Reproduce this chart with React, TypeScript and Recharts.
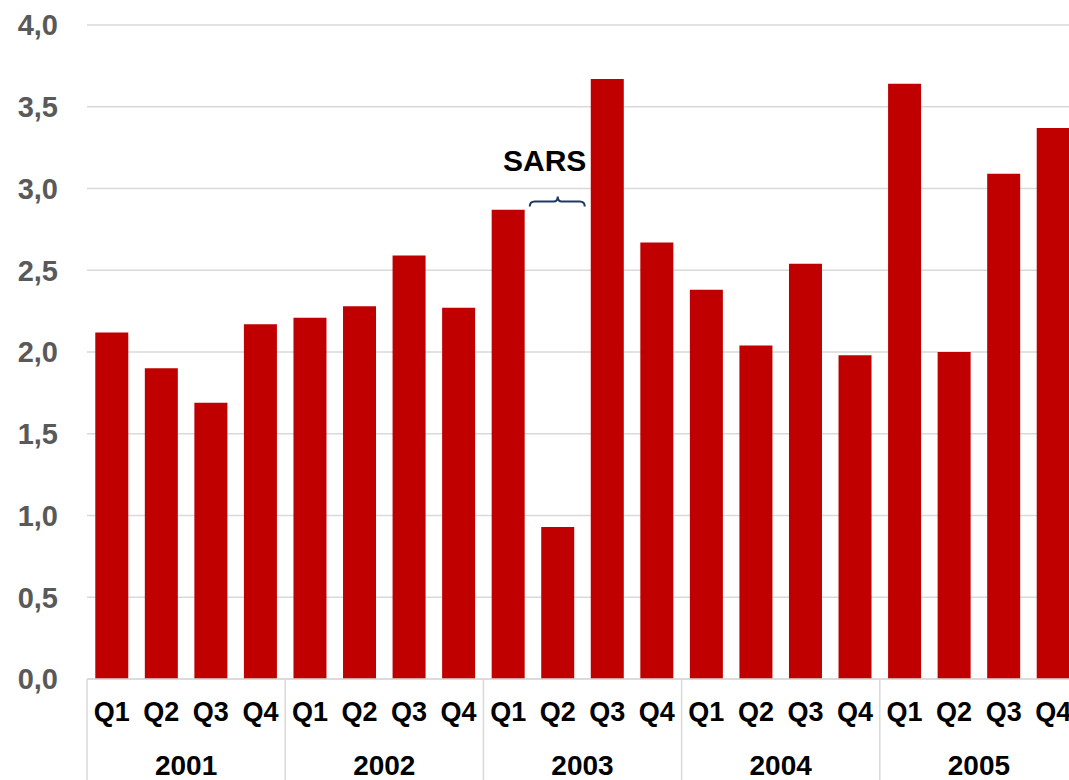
import React from 'react';
import { BarChart, Bar, XAxis, YAxis, CartesianGrid, ReferenceDot } from 'recharts';

// Quarterly values 2001-2005
const YEARS = ['2001', '2002', '2003', '2004', '2005'];
const QUARTERS = ['Q1', 'Q2', 'Q3', 'Q4'];
const VALUES = [
  2.12, 1.90, 1.69, 2.17,
  2.21, 2.28, 2.59, 2.27,
  2.87, 0.93, 3.67, 2.67,
  2.38, 2.04, 2.54, 1.98,
  3.64, 2.00, 3.09, 3.37,
];
const Y_TICKS = [0, 0.5, 1, 1.5, 2, 2.5, 3, 3.5, 4];

const data = VALUES.map((v, i) => ({
  key: `${YEARS[Math.floor(i / 4)]}-${QUARTERS[i % 4]}`,
  year: YEARS[Math.floor(i / 4)],
  quarter: QUARTERS[i % 4],
  value: v,
}));

const FONT = '"Liberation Sans", Arial, sans-serif';
const GRID = '#d9d9d9';

const QuarterTick = (props: any) => {
  const { x, y, payload } = props;
  const q = String(payload.value).split('-')[1];
  const left = x - (payload.offset ?? 0);
  return (
    <g>
      {q === 'Q1' && <line x1={left} x2={left} y1={y - 23} y2={y + 120} stroke={GRID} strokeWidth={1.5} />}
      <text x={x} y={y} dy="0.71em" textAnchor="middle" fontFamily={FONT} fontWeight="bold" fontSize={27} fill="#000">
        {q}
      </text>
    </g>
  );
};

const YearTick = (props: any) => {
  const { x, y, payload } = props;
  return (
    <text x={x} y={y} dy="0.71em" textAnchor="middle" fontFamily={FONT} fontWeight="bold" fontSize={28} fill="#000">
      {payload.value}
    </text>
  );
};

// Brace + label above 2003 Q2
const SarsMark = (props: any) => {
  const { cx, cy } = props;
  if (cx == null || cy == null) return null;
  const d = `M${cx - 28},${cy + 5} Q${cx - 28},${cy} ${cx - 23},${cy} L${cx - 4},${cy} Q${cx},${cy} ${cx},${cy - 5} Q${cx},${cy} ${cx + 4},${cy} L${cx + 22},${cy} Q${cx + 27},${cy} ${cx + 27},${cy + 5}`;
  return (
    <g>
      <path d={d} fill="none" stroke="#1F3864" strokeWidth={2} />
      <text x={cx - 13} y={cy - 31} textAnchor="middle" fontFamily={FONT} fontWeight="bold" fontSize={30} fill="#000">
        SARS
      </text>
    </g>
  );
};

export default function App() {
  return (
    <div style={{ position: 'fixed', left: 0, top: 0, width: 1069, height: 780, overflow: 'hidden', background: '#fff' }}>
      <BarChart width={1100} height={800} data={data} margin={{ top: 25, right: 22, left: 0, bottom: 0 }} barCategoryGap="16.7%">
        <CartesianGrid vertical={false} stroke={GRID} strokeWidth={1.5} />
        <XAxis
          dataKey="key"
          interval={0}
          height={55}
          tickSize={0}
          tickMargin={23}
          axisLine={{ stroke: GRID, strokeWidth: 1.5 }}
          tickLine={false}
          tick={<QuarterTick />}
        />
        <XAxis
          xAxisId="year"
          dataKey="year"
          allowDuplicatedCategory={false}
          interval={0}
          height={66}
          tickSize={0}
          tickMargin={21}
          axisLine={false}
          tickLine={false}
          tick={<YearTick />}
        />
        <YAxis
          domain={[0, 4]}
          ticks={Y_TICKS}
          width={87}
          axisLine={false}
          tickLine={false}
          tickSize={0}
          tickMargin={29}
          tickFormatter={(v: number) => v.toFixed(1).replace('.', ',')}
          tick={{ fontFamily: FONT, fontWeight: 'bold', fontSize: 29, fill: '#595959' }}
        />
        <Bar dataKey="value" fill="#C00000" isAnimationActive={false} />
        <ReferenceDot x="2003-Q2" y={2.92} r={0} shape={<SarsMark />} ifOverflow="visible" />
      </BarChart>
    </div>
  );
}
